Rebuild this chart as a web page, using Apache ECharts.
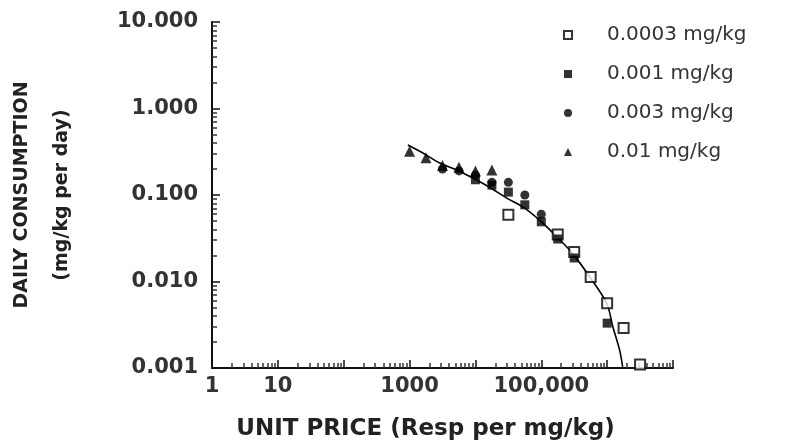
<!DOCTYPE html>
<html>
<head>
<meta charset="utf-8">
<script src="https://cdn.jsdelivr.net/npm/echarts@6/dist/echarts.min.js"></script>
<style>html,body{margin:0;padding:0;background:#fff}#chart{width:792px;height:440px}</style>
</head>
<body>
<div id="chart"></div>
<script>
// ---- data ----
const seriesNames = ['0.0003 mg/kg', '0.001 mg/kg', '0.003 mg/kg', '0.01 mg/kg'];
// [unit price (resp per mg/kg), daily consumption (mg/kg per day)]
const dose00003 = [[31623, 0.059], [177828, 0.035], [316228, 0.022], [562341, 0.0113], [1000000, 0.0056], [1778279, 0.0029], [3162278, 0.0011]];
const dose0001 = [[10000, 0.15], [17783, 0.13], [31623, 0.108], [56234, 0.077], [100000, 0.049], [177828, 0.031], [316228, 0.0187], [1000000, 0.0033]];
const dose0003 = [[3162, 0.20], [5623, 0.19], [10000, 0.17], [17783, 0.14], [31623, 0.14], [56234, 0.10], [100000, 0.06]];
const dose001 = [[1000, 0.32], [1778, 0.27], [3162, 0.22], [5623, 0.21], [10000, 0.19], [17783, 0.195]];
const fitCurve = [[942, 0.378], [1590, 0.306], [2880, 0.234], [5220, 0.195], [9140, 0.157], [16600, 0.122], [29900, 0.092], [52400, 0.073], [94900, 0.051], [171800, 0.033], [300600, 0.021], [544000, 0.0113], [986000, 0.0056], [1220000, 0.0030], [1550000, 0.0016], [1720000, 0.00103]];
const xTickLabels = { 0: '1', 1: '10', 3: '1000', 5: '100,000' };
const yTickLabels = { 1: '10.000', 0: '1.000', '-1': '0.100', '-2': '0.010', '-3': '0.001' };

const FONT = 'DejaVu Sans';
const chart = echarts.init(document.getElementById('chart'), null, { renderer: 'canvas' });
const axisCommon = {
  type: 'log',
  logBase: 10,
  axisLine: { show: true, lineStyle: { color: '#111', width: 2 } },
  axisTick: { show: true, inside: true, length: 8, lineStyle: { color: '#111', width: 1.5 } },
  minorTick: { show: true, splitNumber: 9, length: 5, lineStyle: { color: '#333', width: 1.5 } },
  splitLine: { show: false },
  minorSplitLine: { show: false }
};
chart.setOption({
  animation: false,
  backgroundColor: '#fff',
  grid: { left: 212, right: 119, top: 22, bottom: 72, outerBoundsMode: 'none', containLabel: false },
  legend: {
    orient: 'vertical',
    left: 558,
    top: 20,
    itemGap: 19,
    itemWidth: 8,
    itemHeight: 8,
    data: seriesNames,
    textStyle: { fontFamily: FONT, fontSize: 20, color: '#333', padding: [0, 0, 0, 30] }
  },
  xAxis: Object.assign({}, axisCommon, {
    min: 1, max: 10000000, interval: 1, splitNumber: 7,
    name: 'UNIT PRICE (Resp per mg/kg)',
    nameLocation: 'middle',
    nameGap: 50,
    nameTextStyle: { fontFamily: FONT, fontSize: 23, fontWeight: 'bold', color: '#222', padding: [0, 34, 0, 0] },
    axisLabel: {
      fontFamily: FONT, fontSize: 21, fontWeight: 'bold', color: '#333', margin: 8,
      formatter: v => { const e = Math.round(Math.log10(v)); return xTickLabels[e] || ''; }
    }
  }),
  yAxis: Object.assign({}, axisCommon, {
    min: 0.001, max: 10,
    name: 'DAILY CONSUMPTION\n(mg/kg per day)',
    nameLocation: 'middle',
    nameRotate: 90,
    nameGap: 130,
    nameTextStyle: { fontFamily: FONT, fontSize: 19, color: '#222', lineHeight: 40, fontWeight: 'bold' },
    axisLabel: {
      fontFamily: FONT, fontSize: 21, fontWeight: 'bold', color: '#333', margin: 14,
      formatter: v => { const e = Math.round(Math.log10(v)); return yTickLabels[e] || ''; }
    }
  }),
  series: [
    { name: 'fit', type: 'line', data: fitCurve, showSymbol: false, smooth: 0.3, lineStyle: { color: '#000', width: 1.6 }, z: 1, silent: true },
    { name: seriesNames[0], type: 'scatter', data: dose00003, symbol: 'rect', symbolSize: 10, itemStyle: { color: '#fff', borderColor: '#000', borderWidth: 2 }, z: 2 },
    { name: seriesNames[1], type: 'scatter', data: dose0001, symbol: 'rect', symbolSize: 9, itemStyle: { color: '#000' }, z: 3 },
    { name: seriesNames[2], type: 'scatter', data: dose0003, symbol: 'circle', symbolSize: 9, itemStyle: { color: '#000' }, z: 4 },
    { name: seriesNames[3], type: 'scatter', data: dose001, symbol: 'triangle', symbolSize: 11, itemStyle: { color: '#000' }, z: 5 }
  ]
});
</script>
</body>
</html>
